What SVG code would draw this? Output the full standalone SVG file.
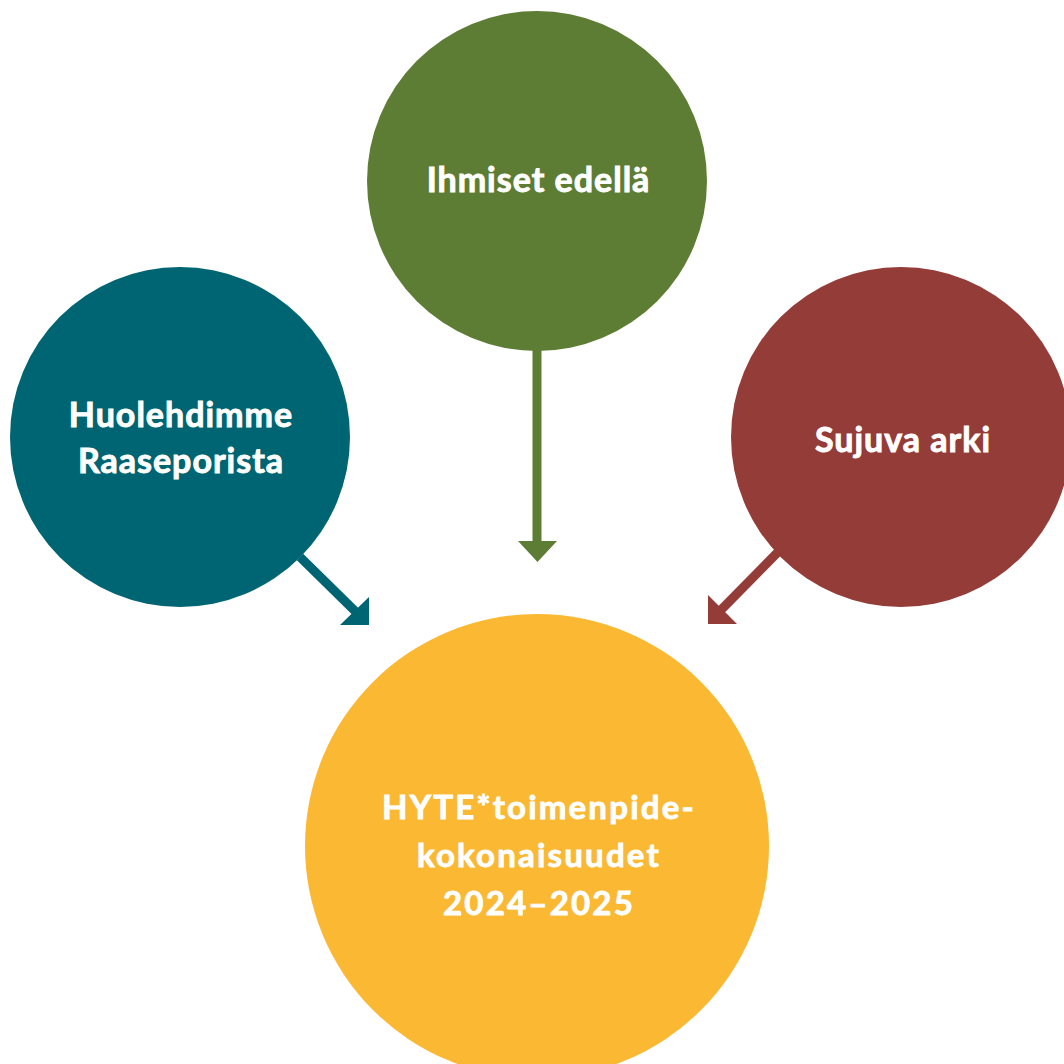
<svg xmlns="http://www.w3.org/2000/svg" width="1064" height="1064" viewBox="0 0 1064 1064">
<style>
.t{font-family:Lato,"Open Sans",sans-serif;font-weight:700;fill:#fff;stroke:#fff;stroke-width:0.9px;text-anchor:middle;font-size:34px;letter-spacing:1px}
.b{font-size:33px;letter-spacing:2.2px}
</style>
<rect width="1064" height="1064" fill="#fff"/>
<g id="node-ihmiset">
<circle cx="537" cy="181" r="170" fill="#5e7d34"/>
<text class="t" x="538.5" y="192">Ihmiset edellä</text>
</g>
<g id="node-huolehdimme">
<circle cx="180" cy="437" r="170" fill="#006573"/>
<text class="t" x="181" y="427">Huolehdimme</text>
<text class="t" x="181" y="473">Raaseporista</text>
</g>
<g id="node-sujuva">
<circle cx="901" cy="437" r="170" fill="#943c38"/>
<text class="t" x="903" y="452">Sujuva arki</text>
</g>
<g id="node-hyte">
<circle cx="537" cy="846" r="232" fill="#fbb833"/>
<text class="t b" x="539" y="819">HYTE*toimenpide-</text>
<text class="t b" x="539" y="867">kokonaisuudet</text>
<text class="t b" x="539" y="915">2024–2025</text>
</g>
<g id="connectors">
<line x1="537" y1="350" x2="537" y2="544" stroke="#5e7d34" stroke-width="9"/>
<polygon points="518,541 557,541 537.5,562" fill="#5e7d34"/>
<line x1="300" y1="557" x2="358" y2="614" stroke="#006573" stroke-width="9"/>
<polygon points="369,597 369,625 340,625" fill="#006573"/>
<line x1="778" y1="552" x2="718" y2="613" stroke="#943c38" stroke-width="9"/>
<polygon points="708,595 708,624 737,624" fill="#943c38"/>
</g>
</svg>
